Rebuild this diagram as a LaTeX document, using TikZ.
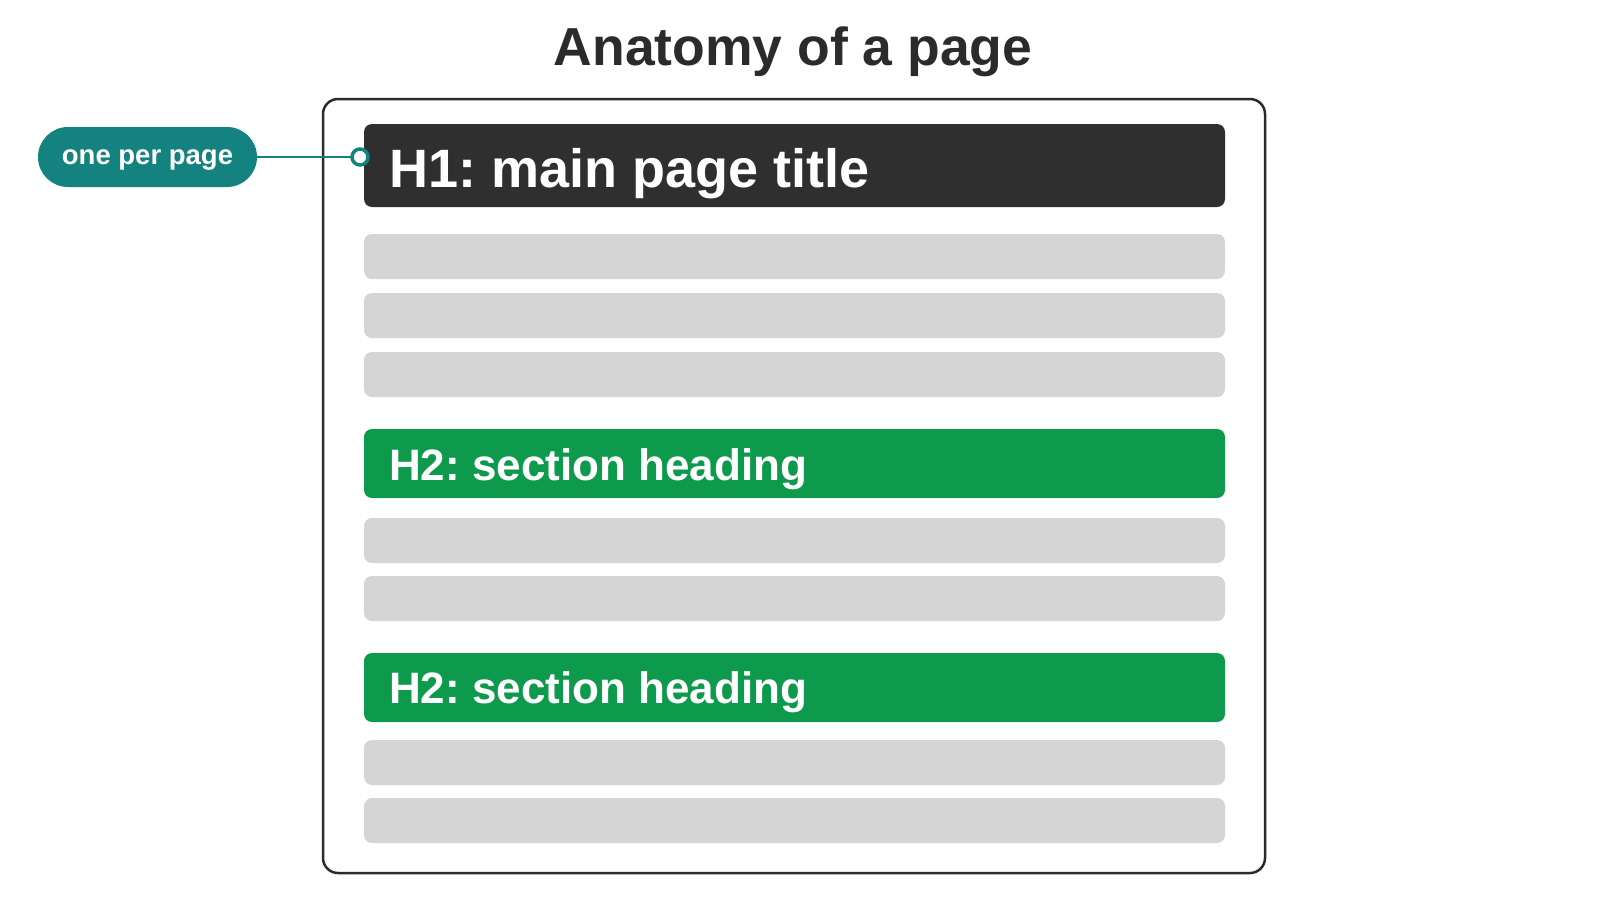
\documentclass[tikz,border=0pt]{standalone}
\usepackage{fontspec}
\setmainfont{Liberation Sans}
\frenchspacing
\definecolor{ink}{HTML}{2B2B2B}
\definecolor{honefill}{HTML}{2F2F2F}
\definecolor{htwofill}{HTML}{0E9A4C}
\definecolor{tealc}{HTML}{148380}
\definecolor{barfill}{HTML}{D5D5D5}
\begin{document}
\begin{tikzpicture}[x=1pt,y=-1pt,
  textbar/.style={fill=barfill, rounded corners=8pt, minimum width=861pt, minimum height=45pt, inner sep=0pt, outer sep=0pt},
  hbar/.style={rounded corners=8pt, minimum width=861pt, inner sep=0pt, outer sep=0pt},
  hlabel/.style={anchor=base west, inner sep=0pt, text=white, font=\bfseries\fontsize{#1}{#1}\selectfont\frenchspacing},
  pill/.style={fill=tealc, rounded corners=30pt, minimum width=219pt, minimum height=60pt, inner sep=0pt},
  pin/.style={circle, draw=tealc, fill=white, line width=3.5pt, minimum size=16pt, inner sep=0pt},
  connector/.style={draw=tealc, line width=2.5pt}
]
\useasboundingbox (0,0) rectangle (1600,900);
\fill[white] (0,0) rectangle (1600,900);

% title
\node[anchor=base, inner sep=0pt, text=ink, font=\bfseries\fontsize{53.5}{60}\selectfont] (title) at (793,65) {Anatomy of a page};

% page frame
\node[draw=ink, line width=2.5pt, rounded corners=15pt, minimum width=942pt, minimum height=774pt, inner sep=0pt] (page) at (794,486) {};

% H1
\node[hbar, fill=honefill, minimum height=83pt] (h1) at (794.5,165.5) {};
\node[hlabel=54] (h1t) at (389,187) {H1: main page title};

% text lines
\node[textbar] (g1) at (794.5,256.5) {};
\node[textbar] (g2) at (794.5,315.5) {};
\node[textbar] (g3) at (794.5,374.5) {};

% H2 a
\node[hbar, fill=htwofill, minimum height=69pt] (h2a) at (794.5,463.5) {};
\node[hlabel=44] (h2at) at (389,480) {H2: section heading};

\node[textbar] (g4) at (794.5,540.5) {};
\node[textbar] (g5) at (794.5,598.5) {};

% H2 b
\node[hbar, fill=htwofill, minimum height=69pt] (h2b) at (794.5,687.5) {};
\node[hlabel=44] (h2bt) at (389,703) {H2: section heading};

\node[textbar] (g6) at (794.5,762.5) {};
\node[textbar] (g7) at (794.5,820.5) {};

% callout
\node[pill] (pill) at (147.5,157) {};
\node[anchor=base, inner sep=0pt, text=white, font=\bfseries\fontsize{27.5}{30}\selectfont] (pillt) at (147.5,164.5) {one per page};
\coordinate (dotc) at (360,157);
\draw[connector] (pill.east) -- (dotc);
\node[pin] (dot) at (dotc) {};
\end{tikzpicture}
\end{document}
